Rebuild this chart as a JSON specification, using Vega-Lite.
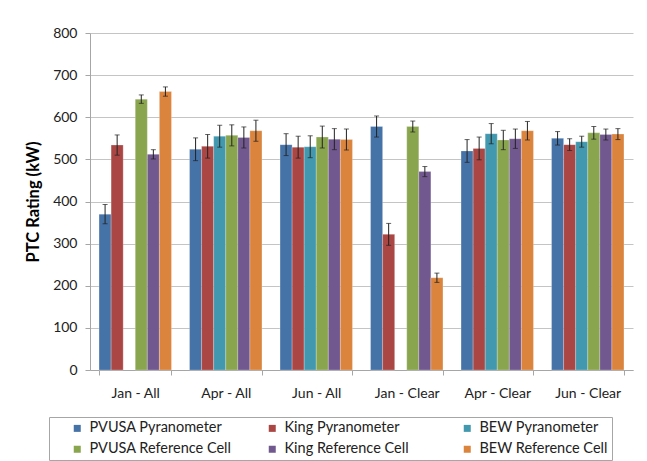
{
  "$schema": "https://vega.github.io/schema/vega-lite/v6.json",
  "width": 543,
  "height": 337,
  "autosize": "none",
  "padding": {"left": 90, "top": 33, "right": 14, "bottom": 91},
  "background": "white",
  "config": {
    "font": "Lato",
    "view": {"stroke": null},
    "axis": {"labelFont": "Lato", "titleFont": "Lato"}
  },
  "data": {
    "values": [
      {"category": "Jan - All", "series": "PVUSA Pyranometer", "value": 370, "lo": 347, "hi": 393},
      {"category": "Jan - All", "series": "King Pyranometer", "value": 534, "lo": 510, "hi": 558},
      {"category": "Jan - All", "series": "PVUSA Reference Cell", "value": 643, "lo": 633, "hi": 653},
      {"category": "Jan - All", "series": "King Reference Cell", "value": 512, "lo": 501, "hi": 523},
      {"category": "Jan - All", "series": "BEW Reference Cell", "value": 661, "lo": 650, "hi": 672},
      {"category": "Apr - All", "series": "PVUSA Pyranometer", "value": 524, "lo": 497, "hi": 551},
      {"category": "Apr - All", "series": "King Pyranometer", "value": 531, "lo": 503, "hi": 559},
      {"category": "Apr - All", "series": "BEW Pyranometer", "value": 555, "lo": 529, "hi": 581},
      {"category": "Apr - All", "series": "PVUSA Reference Cell", "value": 557, "lo": 532, "hi": 582},
      {"category": "Apr - All", "series": "King Reference Cell", "value": 552, "lo": 527, "hi": 577},
      {"category": "Apr - All", "series": "BEW Reference Cell", "value": 568, "lo": 543, "hi": 593},
      {"category": "Jun - All", "series": "PVUSA Pyranometer", "value": 535, "lo": 509, "hi": 561},
      {"category": "Jun - All", "series": "King Pyranometer", "value": 529, "lo": 503, "hi": 555},
      {"category": "Jun - All", "series": "BEW Pyranometer", "value": 530, "lo": 504, "hi": 556},
      {"category": "Jun - All", "series": "PVUSA Reference Cell", "value": 553, "lo": 527, "hi": 579},
      {"category": "Jun - All", "series": "King Reference Cell", "value": 548, "lo": 523, "hi": 573},
      {"category": "Jun - All", "series": "BEW Reference Cell", "value": 547, "lo": 522, "hi": 572},
      {"category": "Jan - Clear", "series": "PVUSA Pyranometer", "value": 578, "lo": 553, "hi": 603},
      {"category": "Jan - Clear", "series": "King Pyranometer", "value": 322, "lo": 296, "hi": 348},
      {"category": "Jan - Clear", "series": "PVUSA Reference Cell", "value": 578, "lo": 565, "hi": 591},
      {"category": "Jan - Clear", "series": "King Reference Cell", "value": 471, "lo": 459, "hi": 483},
      {"category": "Jan - Clear", "series": "BEW Reference Cell", "value": 219, "lo": 208, "hi": 230},
      {"category": "Apr - Clear", "series": "PVUSA Pyranometer", "value": 520, "lo": 493, "hi": 547},
      {"category": "Apr - Clear", "series": "King Pyranometer", "value": 526, "lo": 499, "hi": 553},
      {"category": "Apr - Clear", "series": "BEW Pyranometer", "value": 561, "lo": 537, "hi": 585},
      {"category": "Apr - Clear", "series": "PVUSA Reference Cell", "value": 546, "lo": 523, "hi": 569},
      {"category": "Apr - Clear", "series": "King Reference Cell", "value": 549, "lo": 526, "hi": 572},
      {"category": "Apr - Clear", "series": "BEW Reference Cell", "value": 568, "lo": 546, "hi": 590},
      {"category": "Jun - Clear", "series": "PVUSA Pyranometer", "value": 550, "lo": 534, "hi": 566},
      {"category": "Jun - Clear", "series": "King Pyranometer", "value": 535, "lo": 521, "hi": 549},
      {"category": "Jun - Clear", "series": "BEW Pyranometer", "value": 542, "lo": 529, "hi": 555},
      {"category": "Jun - Clear", "series": "PVUSA Reference Cell", "value": 563, "lo": 548, "hi": 578},
      {"category": "Jun - Clear", "series": "King Reference Cell", "value": 559, "lo": 546, "hi": 572},
      {"category": "Jun - Clear", "series": "BEW Reference Cell", "value": 560, "lo": 547, "hi": 573}
    ]
  },
  "encoding": {
    "x": {
      "field": "category",
      "type": "nominal",
      "sort": ["Jan - All", "Apr - All", "Jun - All", "Jan - Clear", "Apr - Clear", "Jun - Clear"],
      "scale": {"paddingInner": 0.2, "paddingOuter": 0.1},
      "axis": {
        "title": null,
        "labelAngle": 0,
        "labelFontSize": 14,
        "labelColor": "#222222",
        "labelPadding": 11,
        "tickBand": "extent",
        "tickSize": 5,
        "tickColor": "#A6A6A6",
        "domainColor": "#A6A6A6",
        "grid": false
      }
    },
    "xOffset": {
      "field": "series",
      "type": "nominal",
      "sort": ["PVUSA Pyranometer", "King Pyranometer", "BEW Pyranometer", "PVUSA Reference Cell", "King Reference Cell", "BEW Reference Cell"],
      "scale": {"domain": ["PVUSA Pyranometer", "King Pyranometer", "BEW Pyranometer", "PVUSA Reference Cell", "King Reference Cell", "BEW Reference Cell"], "paddingInner": 0, "paddingOuter": 0}
    }
  },
  "layer": [
    {
      "mark": {"type": "bar", "stroke": "white", "strokeWidth": 0.4, "strokeOpacity": 0.6},
      "encoding": {
        "y": {
          "field": "value",
          "type": "quantitative",
          "scale": {"domain": [0, 800], "nice": false},
          "axis": {
            "title": "PTC Rating (kW)",
            "titleFontSize": 16.5,
            "titleFontWeight": "bold",
            "titleColor": "#000000",
            "titlePadding": 11,
            "values": [0, 100, 200, 300, 400, 500, 600, 700, 800],
            "labelFontSize": 14,
            "labelColor": "#222222",
            "labelPadding": 8,
            "tickSize": 5,
            "tickColor": "#A6A6A6",
            "domainColor": "#A6A6A6",
            "gridColor": "#C4C4C4",
            "gridWidth": 1
          }
        },
        "color": {
          "field": "series",
          "type": "nominal",
          "scale": {
            "domain": ["PVUSA Pyranometer", "King Pyranometer", "BEW Pyranometer", "PVUSA Reference Cell", "King Reference Cell", "BEW Reference Cell"],
            "range": ["#4572A7", "#AA4643", "#4198AF", "#89A54E", "#71588F", "#DB843D"]
          },
          "legend": {
            "title": null,
            "orient": "none",
            "legendX": -41,
            "legendY": 384,
            "direction": "horizontal",
            "columns": 3,
            "gridAlign": "all",
            "columnPadding": 16,
            "rowPadding": 6,
            "padding": 4,
            "symbolType": "square",
            "symbolSize": 49,
            "symbolStrokeWidth": 0,
            "symbolOffset": 17,
            "labelOffset": 5,
            "labelFontSize": 14.5,
            "labelColor": "#222222",
            "labelLimit": 300,
            "strokeColor": "#A6A6A6",
            "fillColor": "white"
          }
        }
      }
    },
    {
      "mark": {"type": "rule", "color": "#222222", "strokeWidth": 1},
      "encoding": {
        "y": {"field": "lo", "type": "quantitative"},
        "y2": {"field": "hi"}
      }
    },
    {
      "mark": {"type": "tick", "color": "#222222", "thickness": 1, "size": 5},
      "encoding": {
        "y": {"field": "lo", "type": "quantitative"}
      }
    },
    {
      "mark": {"type": "tick", "color": "#222222", "thickness": 1, "size": 5},
      "encoding": {
        "y": {"field": "hi", "type": "quantitative"}
      }
    }
  ]
}
